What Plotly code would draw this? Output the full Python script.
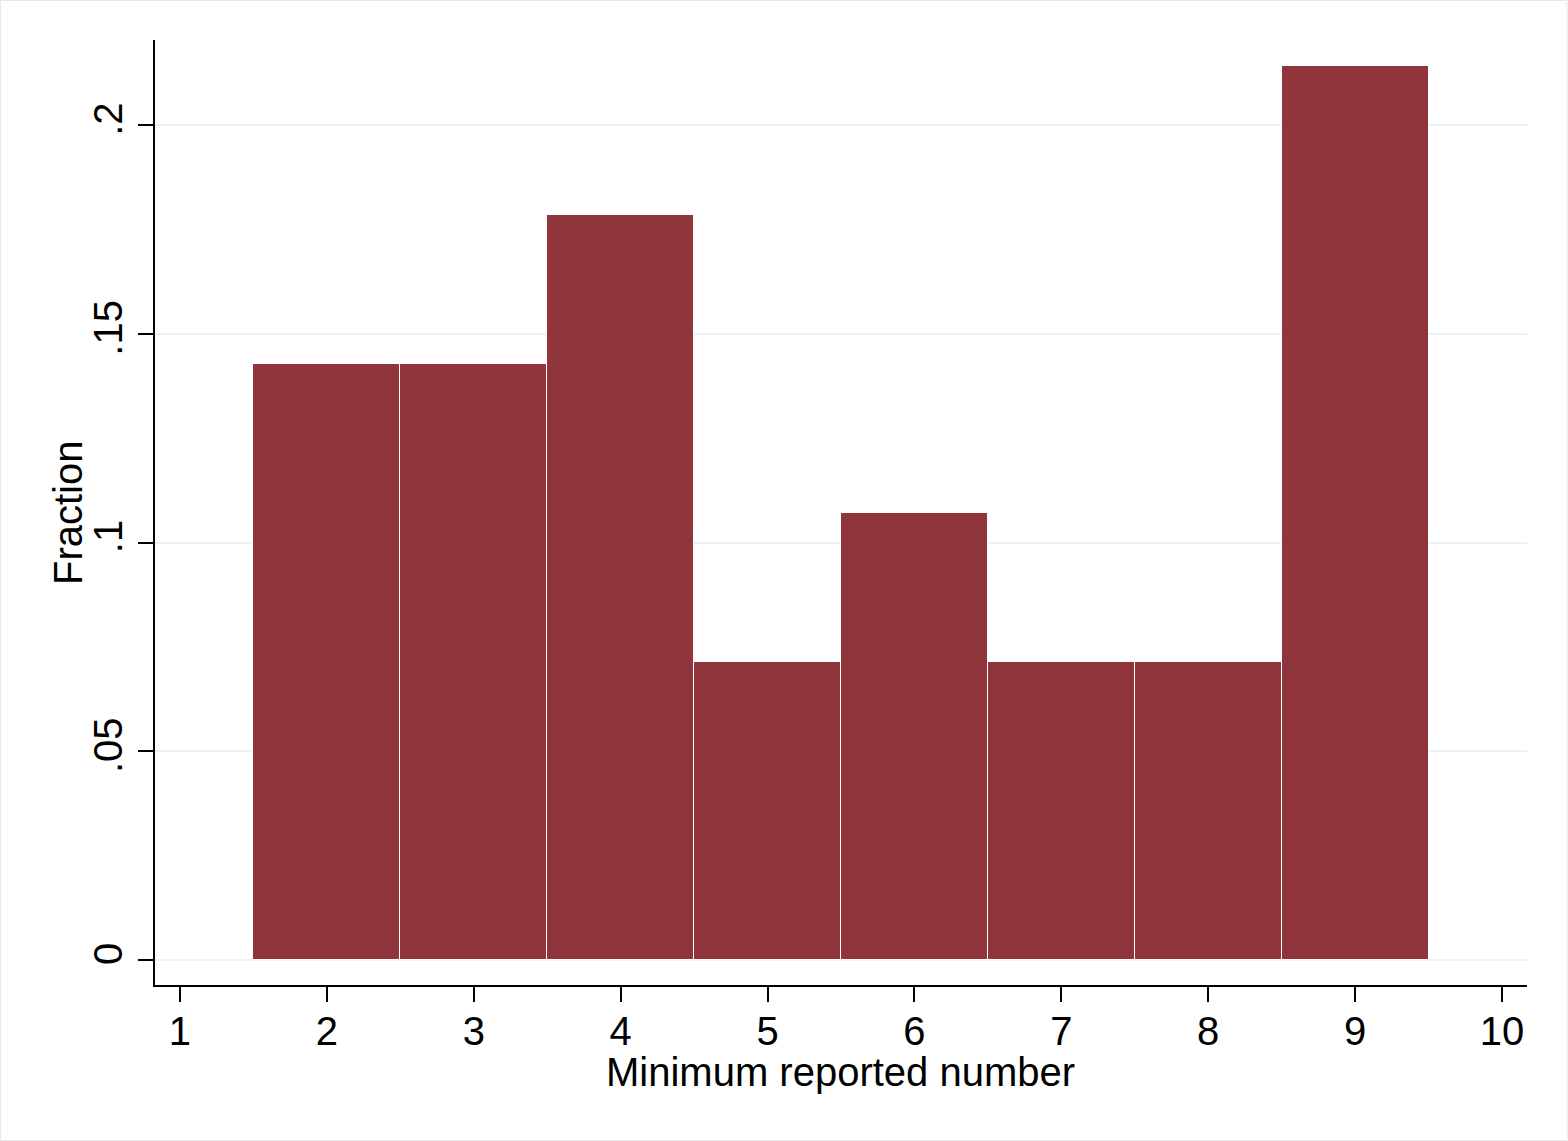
import plotly.graph_objects as go

# Data
bin_centers = [2, 3, 4, 5, 6, 7, 8, 9]
fractions = [4/28, 4/28, 5/28, 2/28, 3/28, 2/28, 2/28, 6/28]
x_ticks = [1, 2, 3, 4, 5, 6, 7, 8, 9, 10]
y_ticks = [0, 0.05, 0.1, 0.15, 0.2]
y_tick_labels = ["0", ".05", ".1", ".15", ".2"]
x_title = "Minimum reported number"
y_title = "Fraction"

W, H = 1568, 1141
ml, mr, mt, mb = 155, 41, 40, 156
pw, ph = W - ml - mr, H - mt - mb

fig = go.Figure()
fig.add_trace(go.Bar(
    x=bin_centers, y=fractions, width=1,
    marker=dict(color="#90353C", line=dict(color="#FFFFFF", width=1)),
    showlegend=False,
))

font = "Liberation Sans, Arial, sans-serif"
fig.update_layout(
    width=W, height=H,
    margin=dict(l=ml, r=mr, t=mt, b=mb),
    paper_bgcolor="white", plot_bgcolor="white",
    font=dict(family=font, color="black", size=40),
    bargap=0,
    xaxis=dict(
        range=[0.83, 10.17], tickvals=x_ticks, ticktext=[str(v) for v in x_ticks],
        showgrid=False, zeroline=False,
        showline=True, linecolor="black", linewidth=2,
        ticks="outside", ticklen=15, tickwidth=2, tickcolor="black",
        tickfont=dict(size=40), ticklabelstandoff=-5,
    ),
    yaxis=dict(
        range=[-0.006, 0.2204], tickvals=y_ticks, ticktext=y_tick_labels,
        tickangle=-90,
        showgrid=True, gridcolor="#EAF2F3", gridwidth=2, zeroline=False,
        showline=True, linecolor="black", linewidth=2,
        ticks="outside", ticklen=15, tickwidth=2, tickcolor="black",
        tickfont=dict(size=40),
    ),
    annotations=[
        dict(text=x_title, xref="paper", yref="paper",
             x=(840 - ml) / pw, y=(H - mb - 1072) / ph,
             xanchor="center", yanchor="middle", showarrow=False,
             font=dict(size=40, family=font, color="black")),
        dict(text=y_title, xref="paper", yref="paper", textangle=-90,
             x=(68 - ml) / pw, y=(H - mb - 513) / ph,
             xanchor="center", yanchor="middle", showarrow=False,
             font=dict(size=40, family=font, color="black")),
    ],
    shapes=[dict(
        type="rect", xref="paper", yref="paper",
        x0=-ml / pw + 0.5 / pw, x1=1 + (mr - 1) / pw,
        y0=-mb / ph + 0.5 / ph, y1=1 + (mt - 0.5) / ph,
        line=dict(color="#E8E8E8", width=1), layer="below",
    )],
)

fig.write_html("out.html", config={"displayModeBar": False},
               post_script="document.body.style.margin='0';document.body.style.padding='0';")
